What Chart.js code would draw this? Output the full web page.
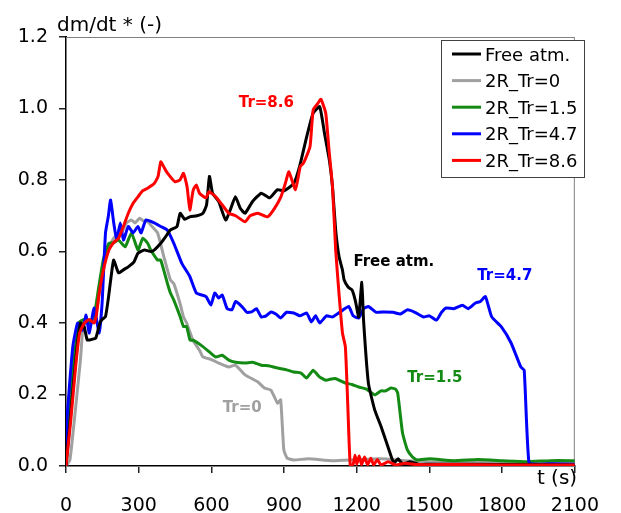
<!DOCTYPE html>
<html>
<head>
<meta charset="utf-8">
<script src="https://cdn.jsdelivr.net/npm/chart.js@4/dist/chart.umd.min.js"></script>
<style>
  html, body { margin: 0; padding: 0; background: #fff; }
  #plot { display: block; }
</style>
</head>
<body>
<canvas id="plot" width="621" height="513"></canvas>
<script>
// x axis ticks (s) and y axis ticks
const xTicks = [0, 300, 600, 900, 1200, 1500, 1800, 2100];
const yTicks = [0, 0.2, 0.4, 0.6, 0.8, 1.0, 1.2];

// Free atm.
const freeT = [0, 20, 45, 60, 75, 88, 110, 123, 140, 149, 163, 175, 190, 197, 217, 240, 257, 280, 297, 324, 350, 364, 391, 410, 430, 458, 471, 490, 511, 540, 565, 580, 592, 605, 630, 659, 680, 699, 720, 739, 770, 806, 840, 873, 900, 940, 965, 993, 1020, 1047, 1067, 1087, 1100, 1113, 1127, 1141, 1148, 1165, 1181, 1195, 1208, 1221, 1228, 1248, 1274, 1301, 1329, 1353, 1370, 1390, 1420, 1460, 1500, 1800, 2100];
const freeV = [0, 0.15, 0.33, 0.40, 0.39, 0.352, 0.355, 0.358, 0.40, 0.41, 0.418, 0.47, 0.55, 0.576, 0.54, 0.55, 0.557, 0.57, 0.595, 0.604, 0.60, 0.604, 0.623, 0.64, 0.66, 0.67, 0.707, 0.69, 0.697, 0.70, 0.707, 0.73, 0.81, 0.763, 0.74, 0.688, 0.72, 0.753, 0.72, 0.707, 0.74, 0.763, 0.75, 0.773, 0.77, 0.79, 0.84, 0.92, 0.987, 1.005, 0.93, 0.855, 0.78, 0.66, 0.585, 0.548, 0.52, 0.50, 0.492, 0.46, 0.417, 0.514, 0.408, 0.232, 0.157, 0.109, 0.053, 0.008, 0.02, 0.005, 0.012, 0.004, 0.005, 0.004, 0.003];

// 2R_Tr=0
const tr0T = [0, 16, 30, 43, 60, 72, 90, 110, 130, 150, 175, 200, 229, 250, 270, 285, 304, 320, 337, 355, 378, 404, 431, 445, 470, 485, 498, 525, 551, 565, 590, 605, 640, 672, 699, 739, 792, 819, 846, 873, 886, 899, 913, 940, 1000, 1100, 1200, 1300, 1400, 1500, 1700, 2100];
const tr0V = [0, 0.017, 0.10, 0.185, 0.30, 0.40, 0.40, 0.40, 0.45, 0.55, 0.61, 0.64, 0.652, 0.68, 0.688, 0.68, 0.693, 0.685, 0.683, 0.67, 0.652, 0.585, 0.52, 0.51, 0.456, 0.417, 0.40, 0.35, 0.324, 0.305, 0.30, 0.296, 0.285, 0.277, 0.282, 0.255, 0.235, 0.218, 0.212, 0.176, 0.185, 0.045, 0.022, 0.017, 0.02, 0.015, 0.018, 0.02, 0.015, 0.012, 0.01, 0.008];

// 2R_Tr=1.5
const tr15T = [0, 3, 28, 45, 56, 76, 96, 116, 135, 155, 177, 197, 217, 244, 270, 297, 317, 337, 350, 378, 391, 418, 431, 445, 471, 485, 498, 512, 525, 565, 590, 618, 645, 672, 700, 739, 770, 806, 840, 873, 905, 940, 970, 993, 1020, 1045, 1072, 1110, 1153, 1180, 1208, 1240, 1274, 1300, 1320, 1341, 1360, 1369, 1389, 1409, 1430, 1449, 1500, 1600, 1700, 1800, 1900, 2000, 2100];
const tr15V = [0, 0.07, 0.277, 0.36, 0.403, 0.41, 0.40, 0.42, 0.50, 0.58, 0.623, 0.625, 0.632, 0.613, 0.652, 0.604, 0.637, 0.623, 0.604, 0.576, 0.576, 0.512, 0.484, 0.464, 0.418, 0.39, 0.39, 0.352, 0.352, 0.334, 0.32, 0.305, 0.31, 0.296, 0.29, 0.288, 0.29, 0.282, 0.28, 0.274, 0.27, 0.263, 0.26, 0.246, 0.268, 0.25, 0.24, 0.245, 0.232, 0.228, 0.221, 0.215, 0.199, 0.21, 0.21, 0.218, 0.215, 0.204, 0.092, 0.045, 0.025, 0.017, 0.02, 0.015, 0.018, 0.015, 0.012, 0.015, 0.015];

// 2R_Tr=4.7
const tr47T = [0, 3, 28, 48, 68, 83, 96, 116, 137, 149, 163, 175, 184, 197, 209, 224, 237, 257, 277, 297, 310, 330, 364, 391, 418, 445, 478, 511, 538, 578, 598, 614, 630, 645, 665, 685, 700, 726, 746, 766, 786, 806, 826, 846, 866, 886, 910, 940, 965, 993, 1013, 1030, 1047, 1075, 1100, 1130, 1167, 1185, 1208, 1228, 1248, 1280, 1314, 1350, 1380, 1409, 1440, 1475, 1500, 1529, 1550, 1569, 1600, 1636, 1660, 1690, 1710, 1731, 1757, 1797, 1837, 1877, 1891, 1911, 1950, 2000, 2100];
const tr47V = [0, 0.12, 0.333, 0.40, 0.38, 0.422, 0.372, 0.442, 0.372, 0.456, 0.652, 0.70, 0.744, 0.68, 0.632, 0.68, 0.632, 0.67, 0.652, 0.67, 0.652, 0.688, 0.68, 0.67, 0.66, 0.623, 0.567, 0.53, 0.484, 0.474, 0.45, 0.484, 0.47, 0.478, 0.44, 0.437, 0.46, 0.446, 0.43, 0.431, 0.44, 0.417, 0.42, 0.431, 0.425, 0.414, 0.43, 0.428, 0.42, 0.428, 0.403, 0.42, 0.40, 0.42, 0.417, 0.43, 0.446, 0.42, 0.414, 0.44, 0.446, 0.43, 0.431, 0.43, 0.425, 0.437, 0.43, 0.417, 0.42, 0.408, 0.43, 0.442, 0.44, 0.45, 0.44, 0.456, 0.46, 0.474, 0.417, 0.389, 0.344, 0.277, 0.268, 0.008, 0.005, 0.006, 0.005];

// 2R_Tr=8.6
const tr86T = [0, 20, 40, 56, 76, 96, 116, 125, 137, 155, 177, 197, 217, 237, 257, 277, 297, 317, 337, 364, 380, 391, 405, 418, 450, 470, 485, 500, 511, 525, 538, 551, 578, 590, 618, 645, 672, 700, 739, 760, 792, 832, 860, 887, 905, 920, 947, 967, 980, 1007, 1020, 1040, 1052, 1072, 1086, 1100, 1113, 1127, 1141, 1153, 1163, 1173, 1185, 1193, 1200, 1210, 1220, 1232, 1245, 1258, 1270, 1285, 1300, 1330, 1360, 1400, 1450, 1600, 1800, 2100];
const tr86V = [0, 0.13, 0.28, 0.372, 0.40, 0.41, 0.40, 0.42, 0.483, 0.55, 0.604, 0.625, 0.637, 0.67, 0.707, 0.735, 0.753, 0.77, 0.777, 0.79, 0.81, 0.851, 0.835, 0.82, 0.795, 0.80, 0.819, 0.78, 0.716, 0.772, 0.786, 0.763, 0.75, 0.767, 0.753, 0.73, 0.707, 0.70, 0.683, 0.70, 0.707, 0.697, 0.72, 0.753, 0.79, 0.823, 0.773, 0.838, 0.847, 0.893, 0.996, 1.015, 1.026, 0.987, 0.88, 0.78, 0.604, 0.48, 0.372, 0.333, 0.17, 0.003, 0.005, 0.03, 0.005, 0.028, 0.004, 0.025, 0.003, 0.022, 0.003, 0.018, 0.003, 0.012, 0.003, 0.008, 0.004, 0.004, 0.003, 0.003];

// curve labels written in the plot: text, t, value, colour
const notes = [
  ['Tr=8.6', 827, 1.015, '#ff0000'],
  ['Free atm.', 1353, 0.57, '#000000'],
  ['Tr=4.7', 1811, 0.531, '#0000ff'],
  ['Tr=1.5', 1522, 0.246, '#138a13'],
  ['Tr=0', 727, 0.162, '#a0a0a0']
];

const pts = (t, v) => t.map((x, i) => ({ x: x, y: v[i] }));

const series = [
  { label: 'Free atm.', data: pts(freeT, freeV), color: '#000000', order: 1 },
  { label: '2R_Tr=0', data: pts(tr0T, tr0V), color: '#a0a0a0', order: 4 },
  { label: '2R_Tr=1.5', data: pts(tr15T, tr15V), color: '#138a13', order: 3 },
  { label: '2R_Tr=4.7', data: pts(tr47T, tr47V), color: '#0000ff', order: 2 },
  { label: '2R_Tr=8.6', data: pts(tr86T, tr86V), color: '#ff0000', order: 0 }
];

const FONT = 'DejaVu Sans';

// frame, titles, legend box and curve labels
const extras = {
  id: 'extras',
  beforeDatasetsDraw(chart) {
    const { ctx, chartArea: a } = chart;
    ctx.save();
    ctx.strokeStyle = '#808080';
    ctx.lineWidth = 1;
    ctx.strokeRect(a.left + 0.5, a.top + 0.5, a.right - a.left - 1, a.bottom - a.top);
    ctx.restore();
  },
  afterDraw(chart) {
    const { ctx, scales } = chart;
    const xs = scales.x, ys = scales.y;
    ctx.save();
    ctx.fillStyle = '#000';
    ctx.font = '20px "' + FONT + '"';
    ctx.textBaseline = 'alphabetic';
    ctx.textAlign = 'left';
    ctx.fillText('dm/dt * (-)', 57, 31);
    ctx.textAlign = 'center';
    ctx.textBaseline = 'middle';
    ctx.fillText('t (s)', 557, 479);

    // legend
    const bx = 441, by = 40, bw = 143, bh = 137;
    ctx.fillStyle = '#fff';
    ctx.fillRect(bx, by, bw, bh);
    ctx.strokeStyle = '#404040';
    ctx.lineWidth = 1;
    ctx.strokeRect(bx + 0.5, by + 0.5, bw, bh);
    ctx.font = '18px "' + FONT + '"';
    ctx.textAlign = 'left';
    series.forEach((s, i) => {
      const y = 56 + i * 26.6;
      ctx.strokeStyle = s.color;
      ctx.lineWidth = 3;
      ctx.beginPath();
      ctx.moveTo(452, y - 2);
      ctx.lineTo(481, y - 2);
      ctx.stroke();
      ctx.fillStyle = '#000';
      ctx.fillText(s.label, 485, y);
    });

    // curve labels
    ctx.font = 'bold 15px "' + FONT + '"';
    ctx.textAlign = 'center';
    notes.forEach(n => {
      ctx.fillStyle = n[3];
      ctx.fillText(n[0], xs.getPixelForValue(n[1]), ys.getPixelForValue(n[2]));
    });
    ctx.restore();
  }
};

new Chart(document.getElementById('plot'), {
  type: 'line',
  data: {
    datasets: series.map(s => ({
      label: s.label,
      data: s.data,
      borderColor: s.color,
      backgroundColor: s.color,
      borderWidth: 3,
      pointRadius: 0,
      tension: 0.15,
      fill: false,
      order: s.order
    }))
  },
  options: {
    responsive: false,
    animation: false,
    devicePixelRatio: 1,
    layout: { padding: { top: 37, right: 31, left: 0, bottom: 0 } },
    plugins: {
      legend: { display: false },
      tooltip: { enabled: false }
    },
    scales: {
      x: {
        type: 'linear',
        min: xTicks[0],
        max: xTicks[xTicks.length - 1],
        afterBuildTicks: sc => { sc.ticks = xTicks.map(v => ({ value: v })); },
        afterFit: sc => { sc.height = 47; },
        grid: { drawOnChartArea: false, drawTicks: true, tickLength: 7, color: '#222', lineWidth: 1.5 },
        border: { display: true, color: '#000', width: 2 },
        ticks: { color: '#000', padding: 22, maxRotation: 0, callback: v => String(v), font: { family: FONT, size: 19 } }
      },
      y: {
        min: yTicks[0],
        max: yTicks[yTicks.length - 1],
        afterBuildTicks: sc => { sc.ticks = yTicks.map(v => ({ value: v })); },
        afterFit: sc => { sc.width = 66; },
        grid: { drawOnChartArea: false, drawTicks: true, tickLength: 7, color: '#222', lineWidth: 1.5 },
        border: { display: true, color: '#000', width: 2 },
        ticks: { color: '#000', padding: 11, callback: v => v.toFixed(1), font: { family: FONT, size: 19 } }
      }
    }
  },
  plugins: [extras]
});
</script>
</body>
</html>
